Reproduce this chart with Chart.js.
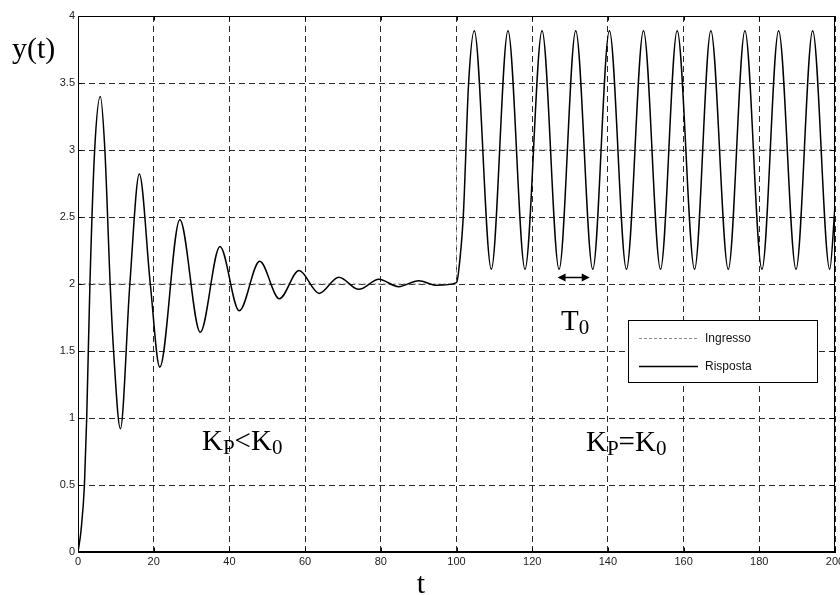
<!DOCTYPE html>
<html>
<head>
<meta charset="utf-8">
<title>y(t)</title>
<script src="https://cdn.jsdelivr.net/npm/chart.js@4.4.1/dist/chart.umd.min.js"></script>
<style>
  html, body { margin: 0; padding: 0; background: #fff; }
  #wrap { width: 840px; height: 595px; overflow: hidden; position: relative; }
  #wrap canvas { display: block; }
</style>
</head>
<body>
<div id="wrap"><canvas id="plot" width="850" height="595" style="width:850px;height:595px"></canvas></div>
<script>
// Ingresso: step input (2 until t=100, then 3)
const inputTime  = [0, 100, 100, 200];
const inputValue = [2, 2, 3, 3];

// Risposta: values (start, crossings, peaks and troughs)
const respTime = [
  0, 0.8, 1.7, 2.3, 3.15, 4.4, 5.9, 7.1, 8.5, 9.4, 11.2, 13.7, 16.2, 19.1, 21.6,
  26.9, 32.3, 37.5, 42.6, 48.0, 53.2, 58.4, 63.7, 68.9, 74.2, 79.5, 84.7, 90.0, 94.7, 100,
  100.5, 101.8, 103.2, 104.7, 109.2, 113.6, 118.1, 122.6, 127.1, 131.5, 136.0, 140.4,
  144.9, 149.4, 153.9, 158.3, 162.9, 167.2, 171.8, 176.2, 180.7, 185.1, 189.7, 194.1, 198.6, 200
];
const respValue = [
  0, 0.16, 0.5, 1.0, 2.0, 3.0, 3.40, 3.0, 2.0, 1.5, 0.92, 2.0, 2.82, 2.0, 1.38,
  2.48, 1.64, 2.28, 1.80, 2.17, 1.89, 2.10, 1.93, 2.05, 1.96, 2.035, 1.98, 2.025, 1.99, 2.01,
  2.08, 2.51, 3.5, 3.89, 2.11, 3.89, 2.11, 3.89, 2.11, 3.89, 2.11, 3.89,
  2.11, 3.89, 2.11, 3.89, 2.11, 3.89, 2.11, 3.89, 2.11, 3.89, 2.11, 3.89, 2.11, 2.58
];

// axis ticks
const xTicks = [0, 20, 40, 60, 80, 100, 120, 140, 160, 180, 200];
const yTicks = [0, 0.5, 1, 1.5, 2, 2.5, 3, 3.5, 4];

const legendLabels = ['Ingresso', 'Risposta'];

const serif = '"Liberation Serif", "Times New Roman", serif';
const sans = '"Liberation Sans", Arial, Helvetica, sans-serif';

// text with lowered subscripts: parts = [text, isSub]
function drawParts(ctx, parts, x, base, size, subSize, drop) {
  let cx = x;
  parts.forEach(([txt, sub]) => {
    ctx.font = (sub ? subSize : size) + 'px ' + serif;
    ctx.fillText(txt, cx, sub ? base + drop : base);
    cx += ctx.measureText(txt).width;
  });
}

const decorations = {
  id: 'decorations',
  afterDraw(chart) {
    const { ctx, chartArea: a, scales: { x, y } } = chart;
    ctx.save();
    ctx.fillStyle = '#000';
    ctx.strokeStyle = '#000';
    ctx.lineWidth = 1;

    // frame
    const L = Math.round(a.left) + 0.5, R = Math.round(a.right) - 0.5;
    const T = Math.round(a.top) + 0.5, B = Math.round(a.bottom) - 0.5;
    ctx.strokeRect(L, T, R - L, B - T);

    // inward ticks on all sides
    ctx.beginPath();
    xTicks.forEach(v => {
      const px = Math.round(x.getPixelForValue(v)) + 0.5;
      ctx.moveTo(px, B); ctx.lineTo(px, B - 4);
      ctx.moveTo(px, T); ctx.lineTo(px, T + 4);
    });
    yTicks.forEach(v => {
      const py = Math.round(y.getPixelForValue(v)) + 0.5;
      ctx.moveTo(L, py); ctx.lineTo(L + 4, py);
      ctx.moveTo(R, py); ctx.lineTo(R - 4, py);
    });
    ctx.stroke();

    // axis titles
    ctx.textBaseline = 'alphabetic';
    ctx.textAlign = 'left';
    ctx.font = '30px ' + serif;
    ctx.fillText('y(t)', 12, 58);
    ctx.textAlign = 'center';
    ctx.fillText('t', 421, 593);
    ctx.textAlign = 'left';

    // annotations
    drawParts(ctx, [['K', false], ['P', true], ['<K', false], ['0', true]], 202, 450, 29, 21, 4);
    drawParts(ctx, [['K', false], ['P', true], ['=K', false], ['0', true]], 586, 451, 29, 21, 4);
    drawParts(ctx, [['T', false], ['0', true]], 561, 330, 29, 21, 4);

    // double arrow for T0
    const ax1 = x.getPixelForValue(126.7), ax2 = x.getPixelForValue(135.2);
    const ay = Math.round(y.getPixelForValue(2.05)) + 0.5;
    ctx.lineWidth = 1.5;
    ctx.beginPath();
    ctx.moveTo(ax1 + 5, ay); ctx.lineTo(ax2 - 5, ay);
    ctx.stroke();
    ctx.beginPath();
    ctx.moveTo(ax1, ay); ctx.lineTo(ax1 + 8, ay - 4); ctx.lineTo(ax1 + 8, ay + 4); ctx.closePath();
    ctx.moveTo(ax2, ay); ctx.lineTo(ax2 - 8, ay - 4); ctx.lineTo(ax2 - 8, ay + 4); ctx.closePath();
    ctx.fill();

    // legend box
    ctx.lineWidth = 1;
    ctx.fillStyle = '#fff';
    ctx.fillRect(628, 320, 189, 62);
    ctx.strokeRect(628.5, 320.5, 189, 62);
    ctx.font = '12px ' + sans;
    ctx.textBaseline = 'middle';
    const rows = [338, 366];
    chart.data.datasets.slice().sort((p, q) => p.legendIndex - q.legendIndex).forEach((ds, i) => {
      const ry = rows[i] + 0.5;
      ctx.save();
      ctx.strokeStyle = ds.borderColor;
      ctx.lineWidth = ds.borderWidth;
      ctx.setLineDash(ds.legendDash || []);
      ctx.beginPath();
      ctx.moveTo(639, ry); ctx.lineTo(698, ry);
      ctx.stroke();
      ctx.restore();
      ctx.fillStyle = '#111';
      ctx.fillText(legendLabels[i], 705, rows[i] + 1);
    });
    ctx.restore();
  }
};

const ctx = document.getElementById('plot').getContext('2d');
const chart = new Chart(ctx, {
  type: 'line',
  data: {
    datasets: [
      {
        label: 'Risposta',
        legendIndex: 1,
        data: respTime.map((t, i) => ({ x: t, y: respValue[i] })),
        borderColor: '#000',
        borderWidth: 1.5,
        cubicInterpolationMode: 'monotone',
        pointRadius: 0,
        fill: false,
        order: 0
      },
      {
        label: 'Ingresso',
        legendIndex: 0,
        data: inputTime.map((t, i) => ({ x: t, y: inputValue[i] })),
        borderColor: '#8c8c8c',
        borderWidth: 1,
        borderDash: [3, 2],
        legendDash: [3, 2],
        tension: 0,
        pointRadius: 0,
        fill: false,
        order: 1
      }
    ]
  },
  options: {
    responsive: false,
    animation: false,
    events: [],
    layout: { padding: { left: 0, right: 15, top: 16, bottom: 0 } },
    plugins: { legend: { display: false }, tooltip: { enabled: false } },
    scales: {
      x: {
        type: 'linear',
        min: 0, max: 200,
        afterFit(s) { s.height = 43; },
        afterBuildTicks(s) { s.ticks = xTicks.map(v => ({ value: v })); },
        grid: { color: '#2a2a2a', lineWidth: 1, drawTicks: false },
        border: { display: true, color: '#000', width: 1, dash: [6, 4] },
        ticks: { padding: 3, maxRotation: 0, autoSkip: false, color: '#222', font: { family: sans, size: 11 },
                 callback: v => String(v) }
      },
      y: {
        type: 'linear',
        min: 0, max: 4,
        afterFit(s) { s.width = 78; },
        afterBuildTicks(s) { s.ticks = yTicks.map(v => ({ value: v })); },
        grid: { color: '#2a2a2a', lineWidth: 1, drawTicks: false },
        border: { display: true, color: '#000', width: 1, dash: [6, 4] },
        ticks: { padding: 3, color: '#222', font: { family: sans, size: 11 },
                 callback: v => String(v) }
      }
    }
  },
  plugins: [decorations]
});
</script>
</body>
</html>
